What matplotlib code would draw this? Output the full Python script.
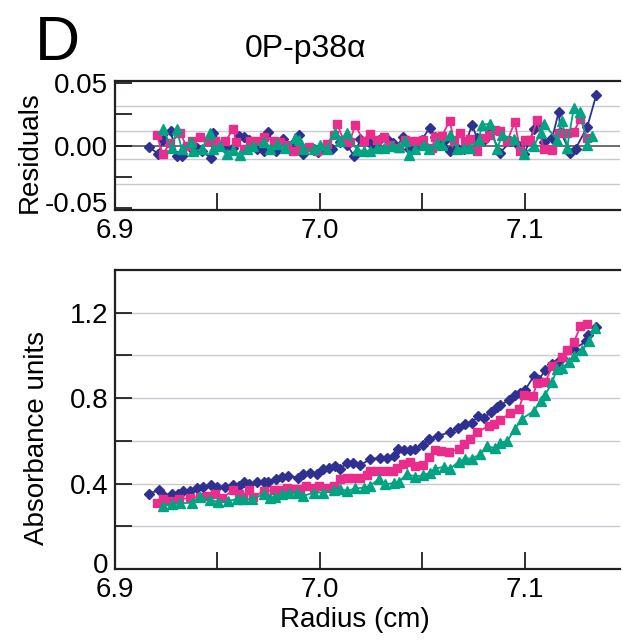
import matplotlib
matplotlib.use("Agg")
import matplotlib.pyplot as plt
from matplotlib.transforms import ScaledTranslation

plt.rcParams['font.family'] = ['Liberation Sans', 'DejaVu Sans']

# ---------------- data ----------------
blue_x = [6.9166, 6.9217, 6.9239, 6.9277, 6.9309, 6.9331, 6.9366, 6.9399, 6.9428, 6.9469,
          6.9500, 6.9537, 6.9578, 6.9603, 6.9630, 6.9655, 6.9692, 6.9725, 6.9749, 6.9785,
          6.9814, 6.9844, 6.9893, 6.9920, 6.9953, 6.9985, 7.0015, 7.0047, 7.0072, 7.0099,
          7.0132, 7.0164, 7.0197, 7.0246, 7.0292, 7.0327, 7.0360, 7.0381, 7.0412, 7.0441,
          7.0466, 7.0503, 7.0531, 7.0575, 7.0637, 7.0673, 7.0710, 7.0743, 7.0772, 7.0800,
          7.0836, 7.0865, 7.0881, 7.0922, 7.0951, 7.0979, 7.1003, 7.1044, 7.1068, 7.1101,
          7.1134, 7.1158, 7.1182, 7.1239, 7.1301, 7.1308, 7.1349]
blue_abs = [0.353, 0.370, 0.342, 0.353, 0.349, 0.363, 0.363, 0.377, 0.384, 0.394,
            0.384, 0.383, 0.392, 0.389, 0.408, 0.397, 0.409, 0.408, 0.409, 0.423,
            0.431, 0.436, 0.428, 0.447, 0.448, 0.444, 0.467, 0.475, 0.482, 0.470,
            0.495, 0.495, 0.487, 0.514, 0.521, 0.521, 0.529, 0.563, 0.556, 0.556,
            0.563, 0.581, 0.610, 0.623, 0.641, 0.661, 0.677, 0.685, 0.716, 0.708,
            0.735, 0.760, 0.766, 0.791, 0.817, 0.822, 0.840, 0.903, 0.887, 0.931,
            0.962, 0.965, 0.988, 1.030, 1.066, 1.097, 1.132]

pink_x = [6.9204, 6.9233, 6.9269, 6.9314, 6.9366, 6.9415, 6.9456, 6.9489, 6.9521, 6.9578,
          6.9603, 6.9627, 6.9655, 6.9676, 6.9725, 6.9774, 6.9798, 6.9839, 6.9871, 6.9904,
          6.9933, 6.9969, 6.9998, 7.0034, 7.0067, 7.0096, 7.0132, 7.0164, 7.0197, 7.0230,
          7.0246, 7.0279, 7.0319, 7.0357, 7.0376, 7.0406, 7.0438, 7.0466, 7.0503, 7.0531,
          7.0564, 7.0591, 7.0629, 7.0678, 7.0702, 7.0735, 7.0767, 7.0824, 7.0849, 7.0881,
          7.0930, 7.0971, 7.0995, 7.1041, 7.1060, 7.1101, 7.1134, 7.1182, 7.1207, 7.1239,
          7.1272, 7.1305]
pink_abs = [0.308, 0.327, 0.319, 0.327, 0.333, 0.338, 0.342, 0.350, 0.332, 0.369,
            0.350, 0.339, 0.369, 0.339, 0.363, 0.370, 0.370, 0.377, 0.374, 0.374,
            0.389, 0.381, 0.389, 0.377, 0.389, 0.423, 0.425, 0.428, 0.425, 0.439,
            0.458, 0.458, 0.458, 0.459, 0.475, 0.490, 0.503, 0.482, 0.487, 0.526,
            0.557, 0.553, 0.548, 0.560, 0.584, 0.607, 0.641, 0.669, 0.677, 0.697,
            0.732, 0.750, 0.817, 0.812, 0.872, 0.875, 0.949, 0.993, 1.027, 1.061,
            1.136, 1.149]

green_x = [6.9236, 6.9277, 6.9318, 6.9375, 6.9415, 6.9464, 6.9505, 6.9554, 6.9594, 6.9627,
           6.9668, 6.9725, 6.9757, 6.9782, 6.9814, 6.9847, 6.9888, 6.9920, 6.9969, 7.0015,
           7.0067, 7.0099, 7.0132, 7.0173, 7.0213, 7.0243, 7.0287, 7.0319, 7.0360, 7.0384,
           7.0425, 7.0466, 7.0503, 7.0539, 7.0564, 7.0604, 7.0637, 7.0678, 7.0710, 7.0743,
           7.0783, 7.0816, 7.0857, 7.0881, 7.0914, 7.0954, 7.0987, 7.1044, 7.1077, 7.1101,
           7.1134, 7.1158, 7.1182, 7.1215, 7.1239, 7.1280, 7.1313, 7.1345]
green_abs = [0.296, 0.304, 0.307, 0.311, 0.339, 0.324, 0.314, 0.319, 0.327, 0.327,
             0.327, 0.350, 0.332, 0.338, 0.350, 0.358, 0.358, 0.342, 0.358, 0.358,
             0.369, 0.374, 0.366, 0.377, 0.381, 0.389, 0.420, 0.397, 0.402, 0.408,
             0.444, 0.433, 0.439, 0.451, 0.470, 0.478, 0.470, 0.503, 0.517, 0.517,
             0.537, 0.576, 0.565, 0.591, 0.599, 0.657, 0.704, 0.739, 0.786, 0.817,
             0.875, 0.937, 0.942, 0.968, 0.996, 1.024, 1.066, 1.128]

blue_rx = [6.9166, 6.9212, 6.9233, 6.9272, 6.9301, 6.9326, 6.9366, 6.9399, 6.9423, 6.9469,
           6.9480, 6.9537, 6.9578, 6.9607, 6.9630, 6.9656, 6.9692, 6.9725, 6.9749, 6.9785,
           6.9819, 6.9863, 6.9896, 6.9920, 6.9969, 6.9993, 7.0059, 7.0099, 7.0132, 7.0168,
           7.0197, 7.0230, 7.0254, 7.0287, 7.0327, 7.0357, 7.0376, 7.0406, 7.0433, 7.0466,
           7.0498, 7.0536, 7.0564, 7.0604, 7.0637, 7.0670, 7.0702, 7.0743, 7.0767, 7.0800,
           7.0832, 7.0881, 7.0930, 7.0971, 7.0998, 7.1044, 7.1068, 7.1093, 7.1134, 7.1166,
           7.1174, 7.1223, 7.1248, 7.1305, 7.1349]
blue_res = [-0.0010, -0.0070, 0.0041, 0.0116, -0.0088, -0.0082, -0.0010, -0.0023, -0.0044, -0.0103,
            0.0103, -0.0023, -0.0023, 0.0077, 0.0067, 0.0046, -0.0031, -0.0044, 0.0106, -0.0044,
            0.0052, 0.0008, 0.0085, -0.0070, -0.0026, -0.0052, -0.0031, 0.0026, 0.0008, -0.0088,
            0.0052, 0.0046, 0.0008, 0.0046, 0.0052, 0.0021, -0.0010, 0.0072, -0.0031, -0.0010,
            0.0046, 0.0144, 0.0072, 0.0034, -0.0044, -0.0018, -0.0031, 0.0168, 0.0059, 0.0046,
            0.0111, -0.0057, 0.0034, 0.0000, -0.0070, 0.0129, 0.0162, 0.0026, 0.0059, 0.0273,
            0.0111, -0.0057, -0.0026, 0.0149, 0.0407]

pink_rx = [6.9204, 6.9233, 6.9269, 6.9318, 6.9350, 6.9375, 6.9415, 6.9456, 6.9489, 6.9537,
           6.9578, 6.9591, 6.9630, 6.9660, 6.9692, 6.9725, 6.9774, 6.9806, 6.9839, 6.9871,
           6.9904, 6.9945, 6.9985, 7.0034, 7.0067, 7.0083, 7.0116, 7.0145, 7.0173, 7.0213,
           7.0246, 7.0279, 7.0311, 7.0344, 7.0384, 7.0417, 7.0458, 7.0503, 7.0547, 7.0564,
           7.0596, 7.0634, 7.0653, 7.0686, 7.0710, 7.0735, 7.0767, 7.0800, 7.0832, 7.0857,
           7.0881, 7.0914, 7.0951, 7.0979, 7.1003, 7.1028, 7.1060, 7.1093, 7.1134, 7.1166,
           7.1207, 7.1239, 7.1272, 7.1305]
pink_res = [0.0085, -0.0070, 0.0021, 0.0098, -0.0005, 0.0034, 0.0072, 0.0034, 0.0034, 0.0034,
            0.0129, 0.0026, -0.0031, 0.0039, 0.0034, 0.0072, 0.0034, 0.0026, 0.0008, -0.0044,
            -0.0026, -0.0010, -0.0044, 0.0015, 0.0085, 0.0175, 0.0046, 0.0026, 0.0168, 0.0034,
            0.0093, 0.0046, 0.0072, 0.0008, -0.0018, 0.0041, 0.0034, 0.0046, -0.0018, 0.0072,
            0.0077, 0.0201, 0.0046, 0.0098, 0.0034, 0.0054, -0.0044, 0.0059, 0.0085, 0.0124,
            0.0119, 0.0034, 0.0188, -0.0044, 0.0046, 0.0041, 0.0206, -0.0031, -0.0036, 0.0098,
            0.0098, 0.0111, 0.0214, 0.0059]

green_rx = [6.9236, 6.9277, 6.9301, 6.9326, 6.9370, 6.9383, 6.9423, 6.9464, 6.9480, 6.9513,
            6.9546, 6.9578, 6.9611, 6.9643, 6.9676, 6.9725, 6.9757, 6.9790, 6.9831, 6.9879,
            6.9896, 6.9920, 6.9969, 7.0002, 7.0034, 7.0075, 7.0099, 7.0132, 7.0181, 7.0213,
            7.0246, 7.0279, 7.0311, 7.0352, 7.0384, 7.0417, 7.0433, 7.0466, 7.0507, 7.0531,
            7.0572, 7.0596, 7.0637, 7.0670, 7.0702, 7.0735, 7.0775, 7.0792, 7.0832, 7.0865,
            7.0889, 7.0946, 7.0995, 7.1044, 7.1077, 7.1093, 7.1158, 7.1182, 7.1207, 7.1239,
            7.1272, 7.1305, 7.1329]
green_res = [0.0129, -0.0023, 0.0137, -0.0031, 0.0026, -0.0044, -0.0031, 0.0098, -0.0026, -0.0005,
             -0.0070, -0.0036, -0.0077, -0.0031, -0.0005, 0.0026, -0.0031, 0.0015, -0.0018, 0.0059,
             0.0046, -0.0026, -0.0031, 0.0008, -0.0031, 0.0103, 0.0034, 0.0098, -0.0036, -0.0044,
             -0.0044, -0.0018, -0.0018, -0.0005, -0.0010, 0.0034, -0.0077, -0.0031, 0.0008, -0.0031,
             0.0021, 0.0008, 0.0085, -0.0026, -0.0018, -0.0018, 0.0046, 0.0168, 0.0175, -0.0031,
             0.0085, 0.0052, -0.0070, -0.0005, 0.0098, 0.0175, 0.0046, 0.0201, -0.0018, 0.0299,
             0.0273, 0.0008, 0.0077]

res_ticks = [-0.05, 0.00, 0.05]
res_ticklabels = ['-0.05', '0.00', '0.05']
abs_ticks = [0, 0.4, 0.8, 1.2]
abs_ticklabels = ['0', '0.4', '0.8', '1.2']
x_ticks = [6.9, 7.0, 7.1]
x_ticklabels = ['6.9', '7.0', '7.1']

# ---------------- styling ----------------
BLUE = '#2E3192'
PINK = '#EC2C8C'
GREEN = '#00A482'
SPINE = '#231F20'
GRID = '#C9C9D3'
FS = 20

fig = plt.figure(figsize=(6.23, 6.40), dpi=100)
W, H = 623, 640
ax_r = fig.add_axes([115 / W, 1 - 210 / H, (620 - 115) / W, (210 - 81) / H])
ax_a = fig.add_axes([115 / W, 1 - 569 / H, (620 - 115) / W, (569 - 270) / H])

series = [
    (blue_x, blue_abs, blue_rx, blue_res, BLUE, 'D', 5.4),
    (pink_x, pink_abs, pink_rx, pink_res, PINK, 's', 5.2),
    (green_x, green_abs, green_rx, green_res, GREEN, '^', 7.0),
]

for ax in (ax_r, ax_a):
    ax.set_xlim(6.9, 7.1465)
    for s in ['left', 'bottom', 'top']:
        ax.spines[s].set_color(SPINE)
        ax.spines[s].set_linewidth(1.6)
    ax.spines['right'].set_visible(False)
    ax.set_xticks(x_ticks)
    ax.set_xticks([6.95, 7.05], minor=True)
    ax.tick_params(axis='both', which='both', direction='in', length=12, width=1.3,
                   color=SPINE, labelsize=FS, top=False, right=False)
    ax.tick_params(axis='x', which='both', pad=6)
    ax.tick_params(axis='y', which='both', pad=5)

# residual axis
ax_r.set_ylim(-0.052, 0.052)
ax_r.set_yticks(res_ticks)
ax_r.set_yticklabels(res_ticklabels)
ax_r.set_yticks([-0.025, 0.025], minor=True)
ax_r.set_xticklabels(x_ticklabels)
for g in [-0.031, -0.0105, 0.0115, 0.032]:
    ax_r.axhline(g, color=GRID, lw=1.0, zorder=0)
ax_r.axhline(0, color='#555555', lw=1.2, zorder=0.5)
for x, a, rx, r, c, m, ms in series:
    ax_r.plot(rx, r, color=c, marker=m, ms=ms, lw=1.3, mec=c, mfc=c, zorder=3)

# absorbance axis
ax_a.set_ylim(0, 1.40)
ax_a.set_yticks(abs_ticks)
ax_a.set_yticklabels(abs_ticklabels)
ax_a.set_yticks([0.2, 0.6, 1.0], minor=True)
ax_a.set_xticklabels(x_ticklabels)
for g in [0.2, 0.4, 0.6, 0.8, 1.0, 1.2]:
    ax_a.axhline(g, color=GRID, lw=1.0, zorder=0)
for x, a, rx, r, c, m, ms in series:
    ax_a.plot(x, a, color=c, marker=m, ms=ms, lw=1.3, mec=c, mfc=c, zorder=3)

# raise the lowest y tick labels a little (as in the reference)
for ax, dy in ((ax_r, 6), (ax_a, 6)):
    lab = ax.yaxis.get_major_ticks()[0].label1
    lab.set_transform(lab.get_transform() + ScaledTranslation(0, dy / 100, fig.dpi_scale_trans))

# labels
fig.text(30 / W, 1 - 152 / H, 'Residuals', rotation=90, ha='center', va='center', fontsize=FS)
fig.text(37 / W, 1 - 438 / H, 'Absorbance units', rotation=90, ha='center', va='center', fontsize=FS)
fig.text(355 / W, 1 - 620 / H, 'Radius (cm)', ha='center', va='center', fontsize=FS)
fig.text(305 / W, 1 - 57 / H, '0P-p38\u03b1', ha='center', va='baseline', fontsize=23)
fig.text(57 / W, 1 - 60 / H, 'D', ha='center', va='baseline', fontsize=45)

fig.savefig('out.png', dpi=100)
